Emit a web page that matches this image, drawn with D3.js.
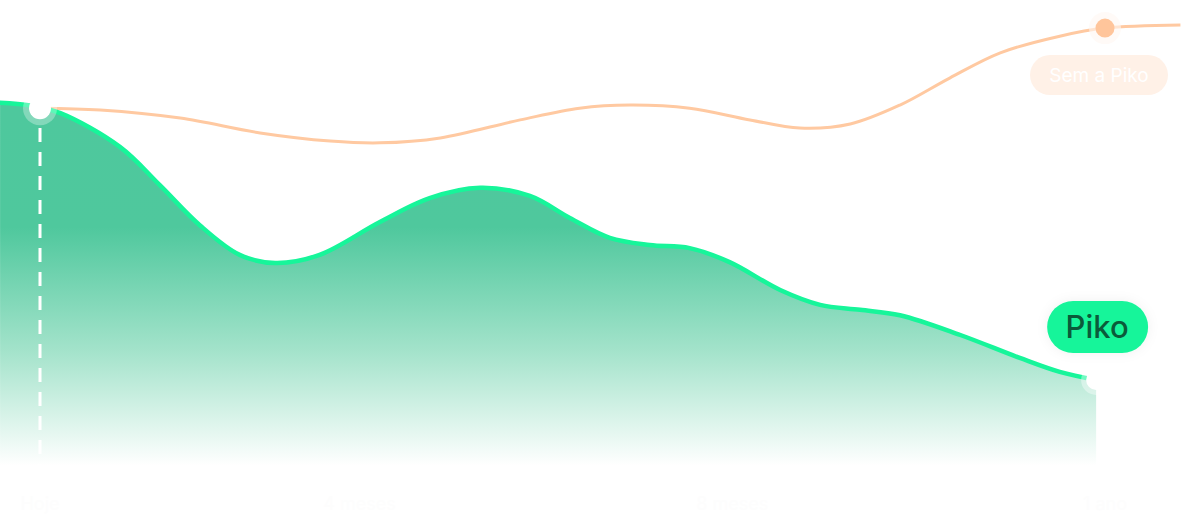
<!DOCTYPE html>
<html>
<head>
<meta charset="utf-8">
<script src="https://cdn.jsdelivr.net/npm/d3@7"></script>
<style>
  html, body { margin: 0; padding: 0; background: #ffffff; }
  svg { display: block; }
  text { font-family: Inter, "Noto Sans", sans-serif; }
</style>
</head>
<body>
<svg id="chart" width="1196" height="524"></svg>
<script>
// ---- data (x in months, y in arbitrary units) ----
const pikoT = [-0.45, -0.11, 0.23, 0.90, 1.35, 1.80, 2.25, 2.65, 3.15, 3.83, 4.39, 4.96, 5.52, 5.97, 6.42, 6.87, 7.32, 7.77, 8.34, 8.79, 9.24, 9.69, 10.37, 11.04, 11.49, 11.90];
const pikoV = [81.6, 81.0, 79.3, 71.8, 63.3, 54.4, 47.8, 46.0, 47.8, 55.1, 60.4, 62.7, 60.9, 56.0, 51.6, 50.0, 49.3, 46.2, 40.0, 36.7, 35.6, 34.4, 30.0, 24.9, 21.8, 20.0];
const semT = [0, 0.68, 1.58, 2.48, 3.27, 3.83, 4.51, 5.41, 6.08, 6.65, 7.32, 8.00, 8.56, 9.13, 9.69, 10.25, 10.82, 11.49, 12.00, 12.85];
const semV = [80.4, 80.0, 78.2, 74.9, 73.1, 72.7, 73.8, 77.8, 80.4, 81.1, 80.4, 77.8, 76.0, 76.9, 81.1, 87.1, 92.7, 96.4, 98.2, 98.9];
const seriesLabels = ["Piko", "Sem a Piko"];
const tickLabels = ["Hoje", "4 meses", "8 meses", "1 ano"];
const tickT = [0, 3.6, 7.8, 12.0];
const startT = 0, pikoEndT = 11.9, semEndT = 12.0;

const svg = d3.select("#chart");
const x = d3.scaleLinear().domain([0, 12]).range([40, 1105]);
const y = d3.scaleLinear().domain([0, 100]).range([470, 20]);
const yBase = y(0);

const piko = pikoT.map((t, i) => ({t, v: pikoV[i]}));
const sem = semT.map((t, i) => ({t, v: semV[i]}));

const defs = svg.append("defs");
const grad = defs.append("linearGradient").attr("id", "gfill")
  .attr("gradientUnits", "userSpaceOnUse").attr("x1", 0).attr("x2", 0)
  .attr("y1", y(80)).attr("y2", y(1));
grad.append("stop").attr("offset", "0").attr("stop-color", "#4ec89d");
grad.append("stop").attr("offset", "0.33").attr("stop-color", "#4fc89d");
grad.append("stop").attr("offset", "0.68").attr("stop-color", "#a4e3cb");
grad.append("stop").attr("offset", "1").attr("stop-color", "#ffffff");

const glow = defs.append("filter").attr("id", "glow").attr("x", "-100%").attr("y", "-100%").attr("width", "300%").attr("height", "300%");
glow.append("feGaussianBlur").attr("in", "SourceAlpha").attr("stdDeviation", 6).attr("result", "b");
glow.append("feFlood").attr("flood-color", "#000").attr("flood-opacity", 0.06);
glow.append("feComposite").attr("in2", "b").attr("operator", "in").attr("result", "s");
const gm = glow.append("feMerge");
gm.append("feMergeNode").attr("in", "s");
gm.append("feMergeNode").attr("in", "SourceGraphic");

const curve = d3.curveCatmullRom.alpha(0.5);
const area = d3.area().x(d => x(d.t)).y0(yBase).y1(d => y(d.v)).curve(curve);
const line = d3.line().x(d => x(d.t)).y(d => y(d.v)).curve(curve);

// area
svg.append("path").datum(piko).attr("d", area).attr("fill", "url(#gfill)");

// faint axis labels (near white)
svg.selectAll("text.tick").data(tickLabels).join("text")
  .attr("class", "tick")
  .attr("x", (d, i) => x(tickT[i])).attr("y", 510)
  .attr("text-anchor", "middle").attr("font-size", 18)
  .attr("fill", "#fdfdfd").text(d => d);

// dashed vertical
svg.append("line")
  .attr("x1", x(startT)).attr("x2", x(startT))
  .attr("y1", y(76)).attr("y2", y(1))
  .attr("stroke", "#ffffff").attr("stroke-width", 3)
  .attr("stroke-dasharray", "14 10");

// orange line
svg.append("path").datum(sem).attr("d", line)
  .attr("fill", "none").attr("stroke", "#ffc9a1").attr("stroke-width", 3);

// green line
svg.append("path").datum(piko).attr("d", line)
  .attr("fill", "none").attr("stroke", "#17f59a").attr("stroke-width", 4.5)
  .attr("stroke-linecap", "round");

// orange end dot
const semEnd = sem.find(d => d.t === semEndT);
svg.append("circle").attr("cx", x(semEnd.t)).attr("cy", y(semEnd.v)).attr("r", 16)
  .attr("fill", "#fff7f2").attr("opacity", 0.6);
svg.append("circle").attr("cx", x(semEnd.t)).attr("cy", y(semEnd.v)).attr("r", 9.5)
  .attr("fill", "#ffc59b");

// start white dot
const start = sem[0];
svg.append("circle").attr("cx", x(start.t)).attr("cy", y(start.v)).attr("r", 17)
  .attr("fill", "#ffffff").attr("opacity", 0.3);
svg.append("circle").attr("cx", x(start.t)).attr("cy", y(start.v)).attr("r", 11)
  .attr("fill", "#ffffff");

// end white dot (piko)
const pEnd = piko[piko.length - 1];
svg.append("circle").attr("cx", x(pEnd.t)).attr("cy", y(pEnd.v)).attr("r", 15)
  .attr("fill", "#ffffff").attr("opacity", 0.4);
svg.append("circle").attr("cx", x(pEnd.t)).attr("cy", y(pEnd.v)).attr("r", 10)
  .attr("fill", "#ffffff");

// Sem a Piko pill
const sp = svg.append("g").attr("transform", `translate(${x(semEnd.t) - 6}, ${y(semEnd.v) + 47})`);
sp.append("rect").attr("x", -69).attr("y", -20).attr("width", 138).attr("height", 40).attr("rx", 20)
  .attr("fill", "#fff1e7");
sp.append("text").attr("text-anchor", "middle").attr("dy", "0.36em")
  .attr("font-size", 19).attr("fill", "#ffffff").text(seriesLabels[1]);

// Piko pill
const pp = svg.append("g").attr("transform", `translate(${x(pEnd.t) + 1}, ${y(pEnd.v) - 53})`);
pp.append("rect").attr("x", -50).attr("y", -26).attr("width", 101).attr("height", 52).attr("rx", 26)
  .attr("fill", "#17f59a").attr("filter", "url(#glow)");
pp.append("text").attr("text-anchor", "middle").attr("dy", "0.36em")
  .attr("font-size", 31).attr("font-weight", 500).attr("fill", "#0b5a3a").text(seriesLabels[0]);
</script>
</body>
</html>
